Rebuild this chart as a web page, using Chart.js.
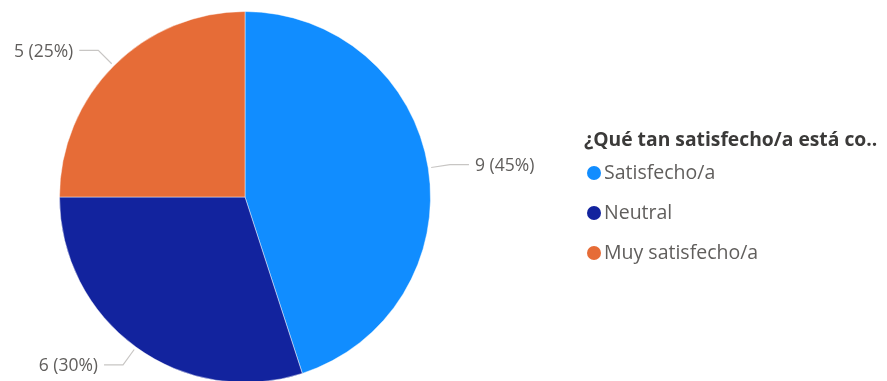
<!DOCTYPE html>
<html>
<head>
<meta charset="utf-8">
<script src="https://cdn.jsdelivr.net/npm/chart.js@4"></script>
<style>
  html, body { margin: 0; padding: 0; background: #fff; overflow: hidden; }
  #wrap { position: relative; width: 887px; height: 400px; }
</style>
</head>
<body>
<div id="wrap"><canvas id="pieChart" width="887" height="400"></canvas></div>
<script>
// datos de la encuesta
const legendTitle = '¿Qué tan satisfecho/a está co..'
const categories = ['Satisfecho/a', 'Neutral', 'Muy satisfecho/a']
const counts = [9, 6, 5]
const percents = [45, 30, 25]
const colors = ['#118DFF', '#12239E', '#E66C37']

const FONT = '"Segoe UI", "Open Sans", "Noto Sans", sans-serif'

// etiquetas con línea guía, estilo Power BI
const leaderLabels = {
    id: 'leaderLabels',
    afterDatasetsDraw(chart) {
        const ctx = chart.ctx
        const arcs = chart.getDatasetMeta(0).data
        ctx.save()
        ctx.font = '17.5px ' + FONT
        ctx.textBaseline = 'middle'
        arcs.forEach((arc, i) => {
            const mid = (arc.startAngle + arc.endAngle) / 2
            const r = arc.outerRadius
            const cx = Math.cos(mid), cy = Math.sin(mid)
            const x0 = arc.x + cx * (r + 3), y0 = arc.y + cy * (r + 3)
            const x1 = arc.x + cx * (r + 22), y1 = arc.y + cy * (r + 22)
            const dir = cx >= 0 ? 1 : -1
            const x2 = x1 + dir * 19
            ctx.strokeStyle = '#C8C6C4'
            ctx.lineWidth = 1.2
            ctx.beginPath()
            ctx.moveTo(x0, y0)
            ctx.lineTo(x1, y1)
            ctx.lineTo(x2, y1)
            ctx.stroke()
            ctx.fillStyle = '#605E5C'
            ctx.textAlign = dir > 0 ? 'left' : 'right'
            ctx.fillText(`${counts[i]} (${percents[i]}%)`, x2 + dir * 6, y1 + 1.5)
        })
        ctx.restore()
    }
}

// leyenda a la derecha
const sideLegend = {
    id: 'sideLegend',
    afterDraw(chart) {
        const ctx = chart.ctx
        ctx.save()
        ctx.textBaseline = 'middle'
        ctx.textAlign = 'left'
        ctx.font = 'bold 19.3px ' + FONT
        ctx.fillStyle = '#3B3A39'
        ctx.fillText(legendTitle, 584, 141)
        ctx.font = '19.5px ' + FONT
        categories.forEach((c, i) => {
            const y = 173 + i * 40
            ctx.fillStyle = colors[i]
            ctx.beginPath()
            ctx.arc(594, y, 7, 0, Math.PI * 2)
            ctx.fill()
            ctx.fillStyle = '#605E5C'
            ctx.fillText(c, 604, y)
        })
        ctx.restore()
    }
}

new Chart(document.getElementById('pieChart'), {
    type: 'pie',
    data: {
        labels: categories,
        datasets: [{
            data: counts,
            backgroundColor: colors,
            borderColor: 'rgba(255,255,255,0.45)',
            borderWidth: 1
        }]
    },
    options: {
        responsive: false,
        animation: false,
        layout: { padding: { left: 59, right: 887 - 431, top: 11, bottom: 400 - 383 } },
        plugins: {
            legend: { display: false },
            tooltip: { enabled: false }
        }
    },
    plugins: [leaderLabels, sideLegend]
})
</script>
</body>
</html>
